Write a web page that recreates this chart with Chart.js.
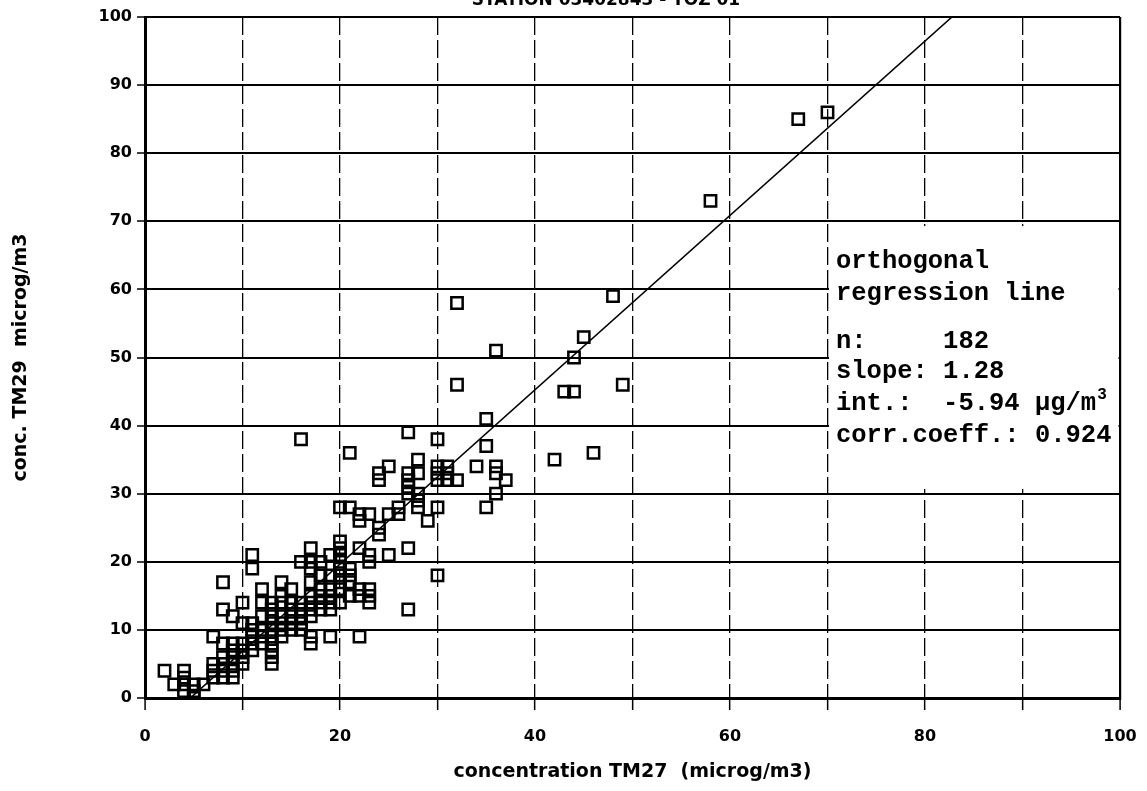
<!DOCTYPE html>
<html>
<head>
<meta charset="utf-8">
<title>TM27 / TM29</title>
<script src="https://cdn.jsdelivr.net/npm/chart.js@4.4.1/dist/chart.umd.min.js"></script>
<style>
  html, body { margin: 0; padding: 0; background: #fff; }
  #wrap { width: 1147px; height: 791px; }
</style>
</head>
<body>
<div id="wrap"><canvas id="scatterChart" width="1147" height="791"></canvas></div>
<script>
// paired daily values, TM27 (x) against TM29 (y), microg/m3
const tm27 = [
  2, 3, 4, 4, 4, 4, 5, 5, 5, 6,
  7, 7, 7, 7,
  8, 8, 8, 8, 8, 8, 8,
  9, 9, 9, 9, 9, 9, 9,
  10, 10, 10, 10, 10, 10,
  11, 11, 11, 11, 11, 11, 11,
  12, 12, 12, 12, 12, 12,
  13, 13, 13, 13, 13, 13, 13, 13, 13, 13,
  14, 14, 14, 14, 14, 14, 14,
  15, 15, 15, 15, 15, 15,
  16, 16, 16, 16, 16, 16, 16,
  17, 17, 17, 17, 17, 17, 17, 17, 17, 17,
  18, 18, 18, 18, 18, 18,
  19, 19, 19, 19, 19, 19, 19,
  20, 20, 20, 20, 20, 20, 20, 20, 20, 20,
  21, 21, 21, 21, 21, 21,
  22, 22, 22, 22, 22, 22,
  23, 23, 23, 23, 23, 23,
  24, 24, 24, 24,
  25, 25, 25,
  26, 26,
  27, 27, 27, 27, 27, 27, 27,
  28, 28, 28, 28, 28,
  29,
  30, 30, 30, 30, 30, 30,
  31, 31, 31,
  32, 32, 32,
  34,
  35, 35, 35,
  36, 36, 36, 36,
  37,
  42, 43, 44, 44, 45, 46, 48, 49, 58, 67, 70
];
const tm29 = [
  4, 2, 4, 3, 2, 1, 2, 1, 0, 2,
  9, 5, 4, 3,
  17, 13, 8, 6, 5, 4, 3,
  12, 8, 7, 6, 5, 4, 3,
  14, 11, 8, 7, 6, 5,
  21, 19, 11, 10, 9, 8, 7,
  16, 14, 12, 10, 9, 8,
  14, 13, 12, 11, 10, 9, 8, 7, 6, 5,
  17, 15, 14, 12, 11, 10, 9,
  16, 14, 13, 12, 11, 10,
  38, 20, 14, 13, 12, 11, 10,
  22, 20, 19, 17, 15, 14, 13, 12, 9, 8,
  20, 18, 16, 15, 14, 13,
  21, 18, 16, 15, 14, 13, 9,
  28, 23, 22, 21, 20, 19, 18, 17, 16, 14,
  36, 28, 19, 18, 17, 15,
  27, 26, 22, 16, 15, 9,
  27, 21, 20, 16, 15, 14,
  33, 32, 25, 24,
  34, 27, 21,
  28, 27,
  39, 33, 32, 31, 30, 22, 13,
  35, 33, 30, 29, 28,
  26,
  38, 34, 33, 32, 28, 18,
  34, 33, 32,
  58, 46, 32,
  34,
  41, 37, 28,
  51, 34, 33, 30,
  32,
  35, 45, 50, 45, 53, 36, 59, 46, 73, 85, 86
];

// orthogonal regression result
const slope = 1.28;
const intercept = -5.94;
const corrCoeff = 0.924;

const xLabelEvery = 20;
const stationTitle = 'STATION 03402843 - TOZ 01';
const xTitle = 'concentration TM27  (microg/m3)';
const yTitle = 'conc. TM29  microg/m3';

const points = tm27.map((v, i) => ({ x: v, y: tm29[i] }));
const fitLine = [
  { x: (0 - intercept) / slope, y: 0 },
  { x: (100 - intercept) / slope, y: 100 }
];

const tickFont = { family: 'DejaVu Sans', size: 16, weight: 'bold' };
const titleFont = { family: 'DejaVu Sans', size: 19, weight: 'bold' };

// white panel with the regression summary, between x = 70..100
const statsBox = {
  id: 'statsBox',
  beforeDatasetsDraw(chart) {
    const { ctx, chartArea, scales: { x, y } } = chart;
    const left = x.getPixelForValue(70) + 1.5;
    const right = chartArea.right - 1.5;
    const top = y.getPixelForValue(69.3);
    const bottom = y.getPixelForValue(30.7);
    ctx.save();
    ctx.fillStyle = '#fff';
    ctx.fillRect(left, top, right - left, bottom - top);

    const tx = left + 7;
    ctx.fillStyle = '#000';
    ctx.textBaseline = 'alphabetic';
    ctx.textAlign = 'left';
    ctx.font = 'bold 25.5px "Liberation Mono"';
    ctx.fillText('orthogonal', tx, top + 42);
    ctx.fillText('regression line', tx, top + 74);
    ctx.fillText('n:     ' + points.length, tx, top + 122);
    ctx.fillText('slope: ' + slope.toFixed(2), tx, top + 152);
    const intText = 'int.:  ' + intercept.toFixed(2) + ' \u00b5g/m';
    ctx.fillText(intText, tx, top + 184);
    const w = ctx.measureText(intText).width;
    ctx.font = 'bold 16px "Liberation Mono"';
    ctx.fillText('3', tx + w + 1, top + 173);
    ctx.font = 'bold 25.5px "Liberation Mono"';
    ctx.fillText('corr.coeff.: ' + corrCoeff.toFixed(3), tx, top + 216);
    ctx.restore();
  }
};

// station header, sits partly above the canvas edge
const stationHeader = {
  id: 'stationHeader',
  afterDraw(chart) {
    const { ctx } = chart;
    ctx.save();
    ctx.fillStyle = '#000';
    ctx.font = 'bold 17px "DejaVu Sans"';
    ctx.textAlign = 'center';
    ctx.textBaseline = 'alphabetic';
    ctx.fillText(stationTitle, 606, 5);
    ctx.restore();
  }
};

new Chart(document.getElementById('scatterChart'), {
  type: 'scatter',
  data: {
    datasets: [
      {
        label: 'TM29 vs TM27',
        data: points,
        pointStyle: 'rect',
        pointRadius: 8,
        pointHoverRadius: 8,
        borderWidth: 2.5,
        borderColor: '#000',
        backgroundColor: 'rgba(0,0,0,0)',
        order: 2
      },
      {
        type: 'line',
        label: 'orthogonal regression line',
        data: fitLine,
        borderColor: '#000',
        borderWidth: 1.6,
        pointRadius: 0,
        fill: false,
        order: 1
      }
    ]
  },
  options: {
    responsive: false,
    animation: false,
    layout: { padding: { top: 17, right: 27, left: 0, bottom: 0 } },
    plugins: {
      legend: { display: false },
      tooltip: { enabled: false }
    },
    scales: {
      x: {
        type: 'linear',
        min: 0,
        max: 100,
        afterFit(scale) {
          scale.height = 93;
          // keep the plot edge fixed, the end labels may overhang
          scale.paddingLeft = 0;
          scale.paddingRight = 0;
        },
        ticks: {
          stepSize: 10,
          autoSkip: false,
          maxRotation: 0,
          padding: 17,
          color: '#000',
          font: tickFont,
          callback: (v) => (v % xLabelEvery === 0 ? v : '')
        },
        grid: {
          color: '#000',
          lineWidth: (c) => (c.tick && (c.tick.value === 0 || c.tick.value === 100) ? 2.2 : 1.3),
          tickLength: 12,
          tickColor: '#000',
          tickWidth: 1.5,
          tickBorderDash: []
        },
        border: {
          display: true,
          color: '#000',
          width: 3,
          dash: (c) => (c.tick && c.tick.value > 0 && c.tick.value < 100 ? [18, 5] : [])
        },
        title: {
          display: true,
          text: xTitle,
          color: '#000',
          font: titleFont,
          padding: { top: 0, bottom: 8 }
        }
      },
      y: {
        type: 'linear',
        min: 0,
        max: 100,
        afterFit(scale) { scale.width = 145; },
        ticks: {
          stepSize: 10,
          padding: 5,
          color: '#000',
          font: tickFont
        },
        grid: {
          color: '#000',
          lineWidth: 2,
          tickLength: 8,
          tickColor: '#000',
          tickWidth: 1.5,
          tickBorderDash: []
        },
        border: { display: true, color: '#000', width: 3 },
        title: {
          display: true,
          text: yTitle,
          color: '#000',
          font: titleFont,
          padding: { top: 10, bottom: 0 }
        }
      }
    }
  },
  plugins: [statsBox, stationHeader]
});
</script>
</body>
</html>
